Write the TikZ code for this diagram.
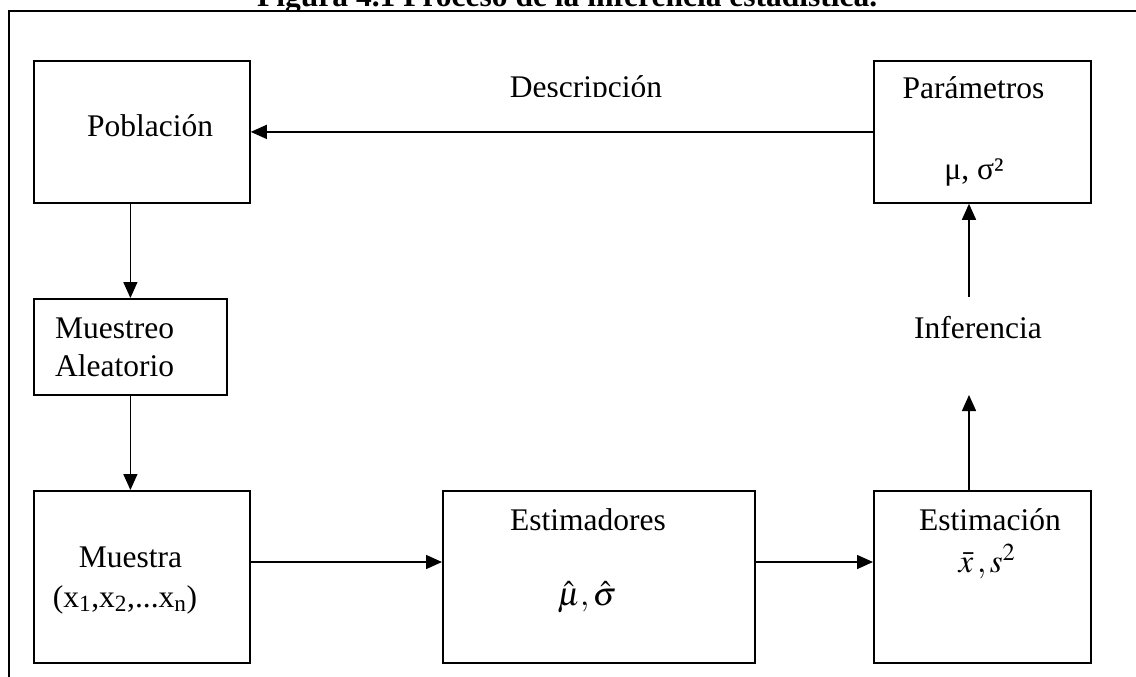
\documentclass[tikz,border=0pt]{standalone}
\usepackage{mathptmx}
\usepackage[no-math]{fontspec}
\setmainfont{Liberation Serif}
\usetikzlibrary{arrows.meta}
\tikzset{
  box/.style={draw=black, line width=1.8pt, anchor=north west, inner sep=0pt},
  txt/.style={font=\fontsize{31.5pt}{36pt}\selectfont, anchor=base, inner sep=0pt},
  mth/.style={font=\fontsize{33pt}{38pt}\selectfont, anchor=base, inner sep=0pt},
  arr/.style={line width=1.5pt, -{Triangle[length=16pt,width=14pt]}},
  ln/.style={line width=1.5pt},
  frame/.style={line width=1.5pt}
}
\begin{document}
\begin{tikzpicture}[x=1pt,y=-1pt]
\useasboundingbox (0,0) rectangle (1136,677);
\fill[white] (0,0) rectangle (1136,677);
% title (clipped at top)
\begin{scope}
\clip (0,0) rectangle (1136,11);
\node[txt, font=\fontsize{31.5pt}{36pt}\selectfont\bfseries, anchor=base west] (title) at (257,7) {Figura 4.1 Proceso de la inferencia estadística.};
\end{scope}
% outer frame
\coordinate (ftl) at (9,11);
\coordinate (ftr) at (1136,11);
\coordinate (fbl) at (9,677);
\draw[frame] (fbl) -- (ftl) -- (ftr);
% boxes
\node[box, minimum width=216pt, minimum height=142pt] (pob) at (33,60) {};
\node[box, minimum width=217pt, minimum height=142pt] (par) at (873,60) {};
\node[box, minimum width=193pt, minimum height=96pt] (mueo) at (33,298) {};
\node[box, minimum width=216pt, minimum height=172pt] (mues) at (33,490) {};
\node[box, minimum width=312pt, minimum height=172pt] (estd) at (442,490) {};
\node[box, minimum width=217pt, minimum height=172pt] (estn) at (873,490) {};
% texts
\node[txt] (tpob) at (150,136) {Población};
\node[txt] (tpar) at (973.5,99) {Parámetros};
\node[txt] (tmusig) at (974,179) {μ, σ²};
\node[txt, anchor=base west] (tmue1) at (55,338) {Muestreo};
\node[txt, anchor=base west] (tmue2) at (55,376) {Aleatorio};
\node[txt] (tmues) at (130.5,567) {Muestra};
\node[txt] (tx) at (125,607) {(x\textsubscript{1},x\textsubscript{2},...x\textsubscript{n})};
\node[txt] (testd) at (588,530) {Estimadores};
\node[mth] (thats) at (587,605) {$\hat{\mu},\hat{\sigma}$};
\node[txt] (testn) at (990,530) {Estimación};
\node[mth] (txs) at (987,572) {$\bar{x}\,,s^{2}$};
\node[txt] (tinf) at (978,338) {Inferencia};
\begin{scope}
\clip (0,0) rectangle (1136,96.5);
\node[txt] (tdesc) at (586,98) {Descripción};
\end{scope}
% connectors
\coordinate (rowy) at (0,562);
\coordinate (colx) at (969,0);
\coordinate (infbot) at (969,395);
\coordinate (inftop) at (969,297);
\draw[arr] (par.west) -- (pob.east);
\draw[arr] (mueo.north |- pob.south) -- (mueo.north);
\draw[arr] (mueo.south) -- (mueo.south |- mues.north);
\draw[arr] (mues.east |- rowy) -- (estd.west |- rowy);
\draw[arr] (estd.east |- rowy) -- (estn.west |- rowy);
\draw[arr] (estn.north -| colx) -- (infbot);
\draw[arr] (inftop) -- (par.south -| colx);
\end{tikzpicture}
\end{document}
